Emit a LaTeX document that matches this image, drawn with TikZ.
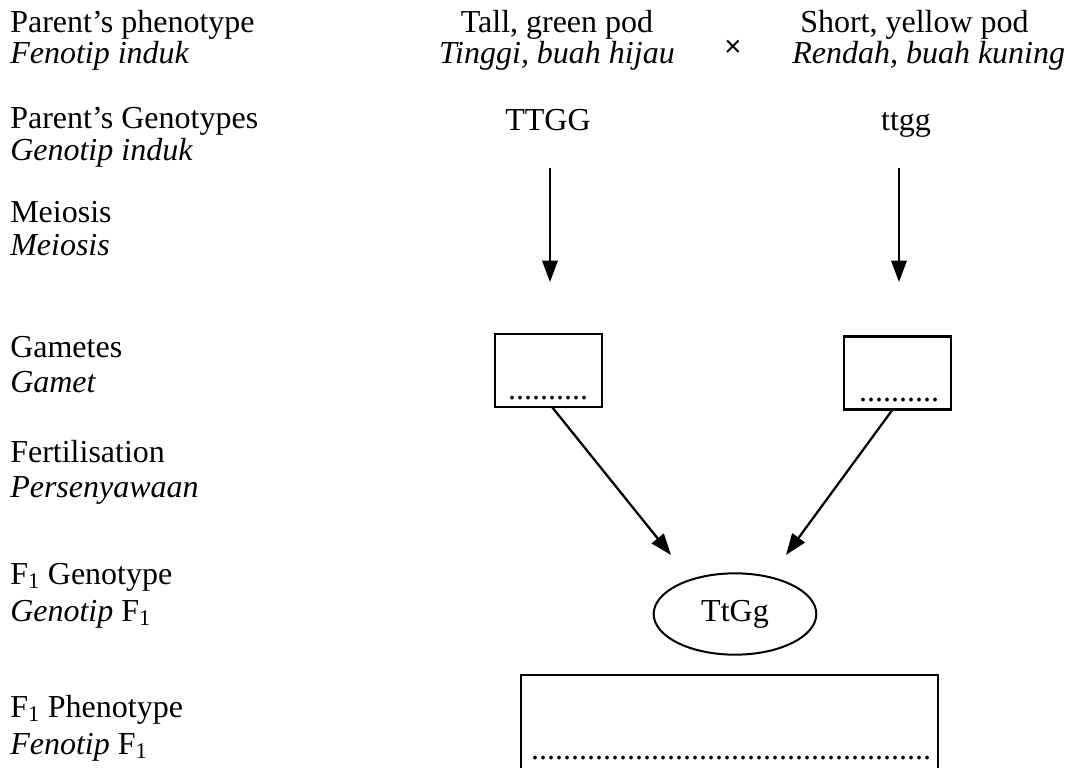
\documentclass[tikz,border=0pt]{standalone}
\usepackage{fontspec}
\setmainfont{Liberation Serif}
\newfontfamily\crossfont{Liberation Sans}
\usetikzlibrary{arrows.meta,shapes.geometric}

\begin{document}
\begin{tikzpicture}[x=0.75pt,y=-0.75pt,
  txt/.style={inner sep=0pt,font=\fontsize{24}{25}\selectfont},
  lbl/.style={txt,anchor=base west},
  ctr/.style={txt,anchor=base},
  dots/.style={txt,anchor=base},
  gbox/.style={draw,line width=1.7pt,minimum width=80.25pt,minimum height=54.75pt,inner sep=0pt},
  arr/.style={line width=1.7pt,-{Triangle[length=16pt,width=11.5pt]}}
]
\useasboundingbox (0,0) rectangle (1083,768);
\clip (0,0) rectangle (1083,768);

% stage labels on the left
\node[lbl] (p1) at (10,32)  {Parent's phenotype};
\node[lbl] (p2) at (10,63)  {\textit{Fenotip induk}};
\node[lbl] (g1l) at (10,128) {Parent's Genotypes};
\node[lbl] (g2l) at (10,160) {\textit{Genotip induk}};
\node[lbl] (m1) at (10,222) {Meiosis};
\node[lbl] (m2) at (10,255) {\textit{Meiosis}};
\node[lbl] (ga1) at (10,357) {Gametes};
\node[lbl] (ga2) at (10,392) {\textit{Gamet}};
\node[lbl] (f1) at (10,462) {Fertilisation};
\node[lbl] (f2) at (10,497) {\textit{Persenyawaan}};
\node[lbl] (fg1) at (10,584) {F\textsubscript{1} Genotype};
\node[lbl] (fg2) at (10,621) {\textit{Genotip} F\textsubscript{1}};
\node[lbl] (fp1) at (10,717) {F\textsubscript{1} Phenotype};
\node[lbl] (fp2) at (10,754) {\textit{Fenotip} F\textsubscript{1}};

% parents
\node[ctr] (tall) at (557,32) {Tall, green pod};
\node[ctr] (tinggi) at (557,63) {\textit{Tinggi, buah hijau}};
\node[inner sep=0pt,font=\crossfont\fontsize{22}{22}\selectfont] (cross) at (733,48) {×};
\node[lbl] (short) at (800,32) {Short, yellow pod};
\node[lbl] (rendah) at (792,63) {\textit{Rendah, buah kuning}};

\node[ctr] (TTGG) at (548,130) {TTGG};
\node[ctr] (ttgg) at (906,130) {ttgg};

% gamete boxes
\node[gbox] (gam1) at (548.5,370.5) {};
\node[gbox] (gam2) at (897.5,373) {};
\node[dots] (d1) at (548,399) {..........};
\node[dots] (d2) at (899,401) {..........};

% meiosis arrows
\coordinate (a1s) at (550,168);
\coordinate (a1e) at (550,282);
\coordinate (b1s) at (899,168);
\coordinate (b1e) at (899,282);
\draw[arr] (a1s) -- (a1e);
\draw[arr] (b1s) -- (b1e);

% fertilisation
\node[draw,ellipse,line width=1.5pt,minimum width=122pt,minimum height=61pt,inner sep=0pt,
      font=\fontsize{24}{25}\selectfont] (zyg) at (735,614) {TtGg};
\coordinate (gs1) at (552,407);
\coordinate (gs2) at (893,409);
\coordinate (e1) at (671,555);
\coordinate (e2) at (786,555);
\draw[arr] (gs1) -- (e1);
\draw[arr] (gs2) -- (e2);

% F1 phenotype box
\node[draw,line width=1.7pt,minimum width=312.75pt,minimum height=86.25pt,inner sep=0pt] (phen) at (729.5,732.5) {};
\node[dots] (d3) at (731,759) {..................................................};
\end{tikzpicture}
\end{document}
